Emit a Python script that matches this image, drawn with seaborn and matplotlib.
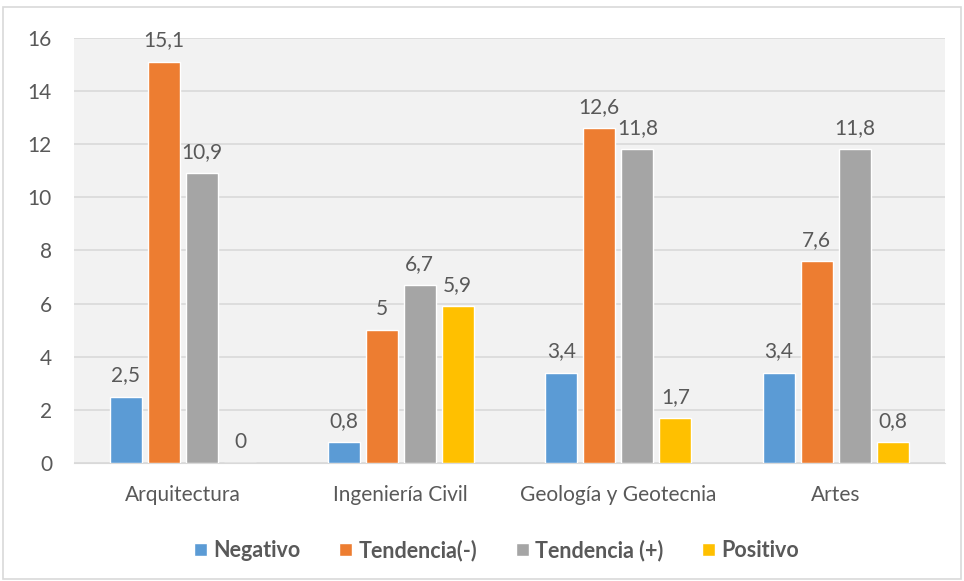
import pandas as pd
import numpy as np
import matplotlib.pyplot as plt
import seaborn as sns

# datos del gráfico
carreras = ['Arquitectura', 'Ingeniería Civil', 'Geología y Geotecnia', 'Artes']
series = ['Negativo', 'Tendencia(-)', 'Tendencia (+)', 'Positivo']
negativo = [2.5, 0.8, 3.4, 3.4]
tendencia_neg = [15.1, 5, 12.6, 7.6]
tendencia_pos = [10.9, 6.7, 11.8, 11.8]
positivo = [0, 5.9, 1.7, 0.8]
colores = ['#5b9bd5', '#ed7d31', '#a5a5a5', '#ffc000']

df = pd.DataFrame({
    'carrera': carreras * 4,
    'serie': np.repeat(series, 4),
    'valor': negativo + tendencia_neg + tendencia_pos + positivo,
})

sns.set_style('white')
plt.rcParams['font.family'] = ['Lato', 'DejaVu Sans']
gris = '#595959'

fig = plt.figure(figsize=(9.64, 5.81), dpi=100)
ax = fig.add_axes([0.077, 0.203, 0.903, 0.732])
ax.set_facecolor('#f2f2f2')

sns.barplot(data=df, x='carrera', y='valor', hue='serie', hue_order=series,
            palette=colores, saturation=1, width=0.7, gap=0.16, ax=ax, zorder=3)

for cont in ax.containers:
    etiquetas = [f'{v:g}'.replace('.', ',') for v in cont.datavalues]
    ax.bar_label(cont, labels=etiquetas, padding=8, fontsize=15, color=gris)

ax.set_ylim(0, 16)
ax.set_yticks(range(0, 17, 2))
ax.yaxis.grid(True, color='#d9d9d9', linewidth=1.2, zorder=0)
ax.set_axisbelow(True)
ax.set_xlabel('')
ax.set_ylabel('')
ax.tick_params(axis='both', labelsize=15, labelcolor=gris, length=0)
ax.tick_params(axis='x', pad=16)
ax.tick_params(axis='y', pad=16)
for lado in ['top', 'right', 'left']:
    ax.spines[lado].set_visible(False)
ax.spines['bottom'].set_color('#d9d9d9')

leg = ax.legend(loc='center', bbox_to_anchor=(0.485, -0.205), ncol=4, frameon=False,
                handlelength=0.6, handleheight=0.6, handletextpad=0.3, columnspacing=1.8,
                prop={'weight': 'bold', 'size': 15.5})
for t in leg.get_texts():
    t.set_color(gris)

# borde del gráfico
fig.patches.append(plt.Rectangle((0.003, 0.003), 0.994, 0.985, transform=fig.transFigure,
                                 fill=False, edgecolor='#d9d9d9', linewidth=1.2))

fig.savefig('out.png', dpi=100)
